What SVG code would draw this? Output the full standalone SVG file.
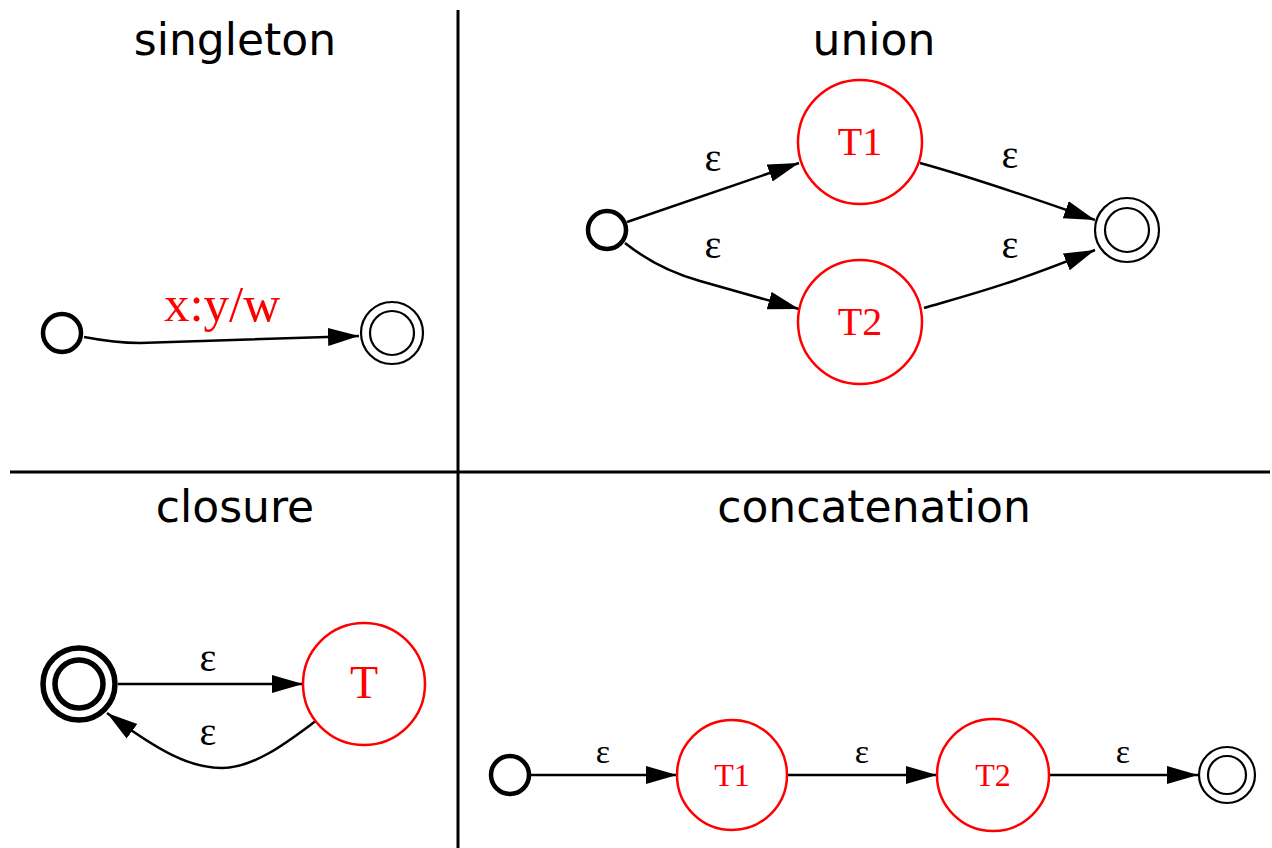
<svg xmlns="http://www.w3.org/2000/svg" width="1272" height="848" viewBox="0 0 1272 848">
<defs>
<marker id="arr" markerUnits="userSpaceOnUse" markerWidth="34" markerHeight="20" refX="31" refY="9" orient="auto">
<path d="M0,0 L31,9 L0,18 Z" fill="#000"/>
</marker>
<style>
.title{font-family:"DejaVu Sans","Liberation Sans",sans-serif;font-size:44px;fill:#000;text-anchor:middle}
.lbl{font-family:"Liberation Serif",serif;fill:#000;text-anchor:middle}
.red{fill:#f00}
.edge{fill:none;stroke:#000;stroke-width:2.5}
.st{fill:#fff;stroke:#000;stroke-width:4.5}
.fin{fill:#fff;stroke:#000;stroke-width:2.2}
.sub{fill:#fff;stroke:#f00;stroke-width:2.5}
.div{stroke:#000;stroke-width:3}
</style>
</defs>
<rect width="1272" height="848" fill="#fff"/>
<g id="dividers">
<line class="div" x1="458" y1="10" x2="458" y2="848"/>
<line class="div" x1="10" y1="472" x2="1270" y2="472" stroke-width="2.5"/>
</g>
<g id="titles">
<text class="title" x="235" y="55">singleton</text>
<text class="title" x="874" y="55">union</text>
<text class="title" x="235" y="522">closure</text>
<text class="title" x="874" y="522">concatenation</text>
</g>
<g id="connectors">
<path class="edge" d="M84,337 C105,341 120,343 140,343 L359,336" marker-end="url(#arr)"/>
<text class="lbl red" x="222" y="321" font-size="51">x:y/w</text>
<path class="edge" d="M627,222 L799,163" marker-end="url(#arr)"/>
<text class="lbl" x="713" y="171" font-size="40">ε</text>
<path class="edge" d="M625,243 C650,263 675,274 700,281 L799,309" marker-end="url(#arr)"/>
<text class="lbl" x="713" y="258" font-size="40">ε</text>
<path class="edge" d="M920,163 C960,174 1010,190 1095,220" marker-end="url(#arr)"/>
<text class="lbl" x="1010" y="168" font-size="40">ε</text>
<path class="edge" d="M924,308 C965,296 1010,285 1095,250" marker-end="url(#arr)"/>
<text class="lbl" x="1010" y="258" font-size="40">ε</text>
<path class="edge" d="M118,684 L303,684" marker-end="url(#arr)"/>
<text class="lbl" x="208" y="671" font-size="40">ε</text>
<path class="edge" d="M317,720 C290,740 255,768 222,768 C190,768 160,752 107,713" marker-end="url(#arr)"/>
<text class="lbl" x="208" y="745" font-size="40">ε</text>
<path class="edge" d="M529,775 L677,775" marker-end="url(#arr)"/>
<text class="lbl" x="603" y="763" font-size="34">ε</text>
<path class="edge" d="M787,775 L937,775" marker-end="url(#arr)"/>
<text class="lbl" x="862" y="763" font-size="34">ε</text>
<path class="edge" d="M1049,775 L1198,775" marker-end="url(#arr)"/>
<text class="lbl" x="1123" y="763" font-size="34">ε</text>
</g>
<g id="s-start"><circle class="st" cx="62" cy="333" r="19"/></g>
<g id="s-final"><circle class="fin" cx="392" cy="333" r="31"/><circle class="fin" cx="392" cy="333" r="22"/></g>
<g id="u-start"><circle class="st" cx="607" cy="230" r="19"/></g>
<g id="u-T1"><circle class="sub" cx="860" cy="142" r="62"/><text class="lbl red" x="860" y="155" font-size="40">T1</text></g>
<g id="u-T2"><circle class="sub" cx="860" cy="322" r="62"/><text class="lbl red" x="860" y="335" font-size="40">T2</text></g>
<g id="u-final"><circle class="fin" cx="1127" cy="230" r="32"/><circle class="fin" cx="1127" cy="230" r="22"/></g>
<g id="c-start"><circle fill="#fff" stroke="#000" stroke-width="5.5" cx="79" cy="684" r="36"/><circle fill="#fff" stroke="#000" stroke-width="5.5" cx="79" cy="684" r="24"/></g>
<g id="c-T"><circle class="sub" cx="364" cy="684" r="61"/><text class="lbl red" x="364" y="698" font-size="46">T</text></g>
<g id="k-start"><circle class="st" cx="510" cy="775" r="19"/></g>
<g id="k-T1"><circle class="sub" cx="732" cy="775" r="55"/><text class="lbl red" x="732" y="786" font-size="32">T1</text></g>
<g id="k-T2"><circle class="sub" cx="993" cy="775" r="56"/><text class="lbl red" x="993" y="786" font-size="32">T2</text></g>
<g id="k-final"><circle class="fin" cx="1227" cy="775" r="28"/><circle class="fin" cx="1227" cy="775" r="19"/></g>
</svg>
